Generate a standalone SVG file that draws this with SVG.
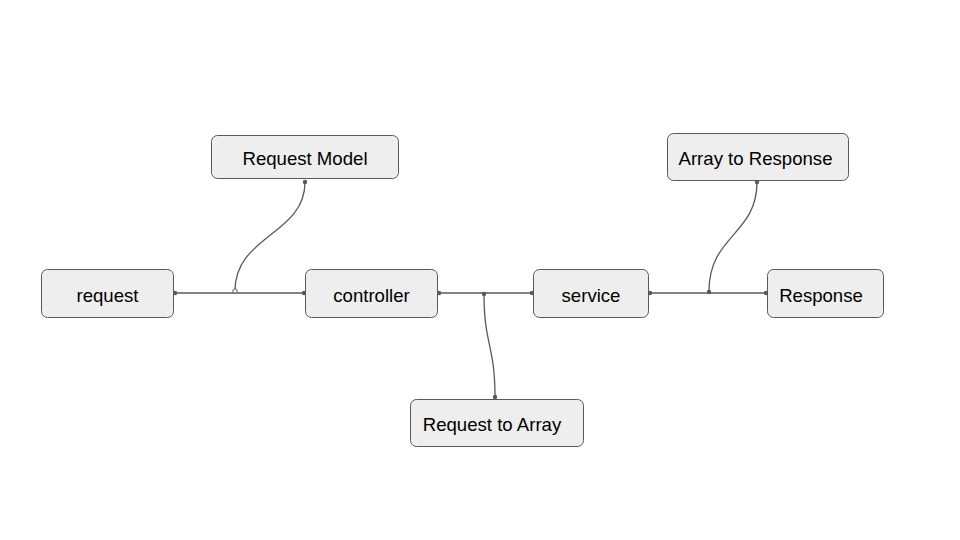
<svg xmlns="http://www.w3.org/2000/svg" width="960" height="540" viewBox="0 0 960 540">
<style>
.n rect{fill:#eeeeee;stroke:#595959;stroke-width:1}
.n text{font-family:"Liberation Sans",Arial,sans-serif;font-size:18.6px;fill:#000;text-anchor:middle;dominant-baseline:central}
.c path{fill:none;stroke:#595959;stroke-width:1.3}
.d{fill:#595959}
.o{fill:#fff;stroke:#595959;stroke-width:1}
</style>
<rect width="960" height="540" fill="#fff"/>
<g class="c" id="connectors">
<path d="M175 293 H304"/>
<path d="M305 182 C305 235 235 235 235 291"/>
<path d="M439 293 H532"/>
<path d="M484 294 C484 345 495 345 495 397"/>
<path d="M650 293 H766"/>
<path d="M757 182 C757 235 709 235 709 291"/>
<circle class="d" cx="175" cy="293" r="2.2"/>
<circle class="d" cx="304" cy="293" r="2.2"/>
<circle class="d" cx="305" cy="182" r="2.2"/>
<circle class="o" cx="235" cy="291" r="2.2"/>
<circle class="d" cx="439" cy="293" r="2.2"/>
<circle class="d" cx="532" cy="293" r="2.2"/>
<circle class="d" cx="484" cy="294" r="2.2"/>
<circle class="d" cx="495" cy="397" r="2.2"/>
<circle class="d" cx="650" cy="293" r="2.2"/>
<circle class="d" cx="766" cy="293" r="2.2"/>
<circle class="d" cx="757" cy="182" r="2.2"/>
<circle class="d" cx="709" cy="292" r="2.2"/>
</g>
<g class="n" id="request"><rect x="41.5" y="269.5" width="132" height="48" rx="6"/><text x="107.5" y="295">request</text></g>
<g class="n" id="request-model"><rect x="211.5" y="135.5" width="187" height="43" rx="6"/><text x="305" y="158">Request Model</text></g>
<g class="n" id="controller"><rect x="305.5" y="269.5" width="132" height="48" rx="6"/><text x="371.5" y="295">controller</text></g>
<g class="n" id="service"><rect x="533.5" y="269.5" width="115" height="48" rx="6"/><text x="591" y="295">service</text></g>
<g class="n" id="response"><rect x="767.5" y="269.5" width="116" height="48" rx="6"/><text x="821" y="295">Response</text></g>
<g class="n" id="array-to-response"><rect x="667.5" y="133.5" width="181" height="47" rx="6"/><text x="755.5" y="158">Array to Response</text></g>
<g class="n" id="request-to-array"><rect x="410.5" y="399.5" width="173" height="47" rx="6"/><text x="492" y="424">Request to Array</text></g>
</svg>
